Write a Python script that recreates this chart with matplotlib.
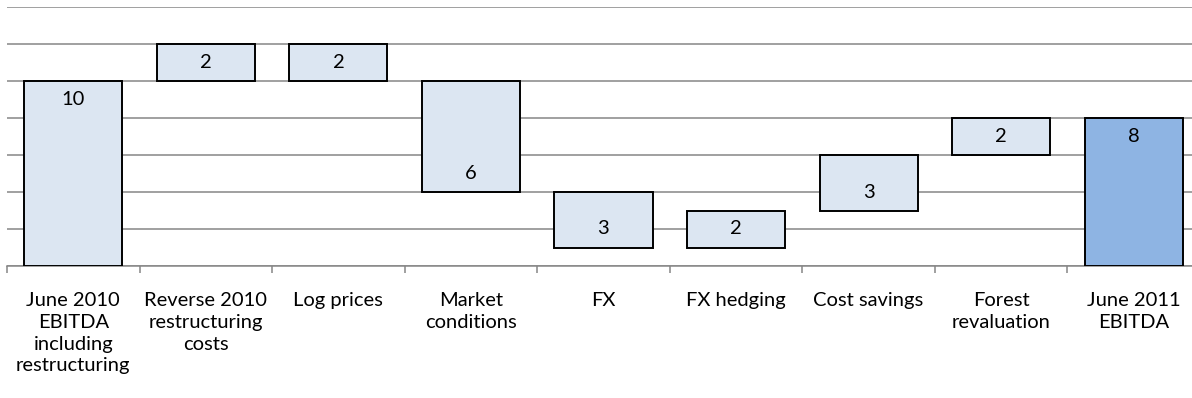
import matplotlib
matplotlib.use("Agg")
import matplotlib.pyplot as plt
import numpy as np

categories = ["June 2010\nEBITDA\nincluding\nrestructuring", "Reverse 2010\nrestructuring\ncosts",
              "Log prices", "Market\nconditions", "FX", "FX hedging", "Cost savings",
              "Forest\nrevaluation", "June 2011\nEBITDA"]
bases = [0, 10, 10, 4, 1, 1, 3, 6, 0]
values = [10, 2, 2, 6, 3, 2, 3, 2, 8]
is_total = [True, False, False, False, False, False, False, False, True]

plt.rcParams['font.family'] = ['Lato', 'DejaVu Sans']

fig = plt.figure(figsize=(11.92, 3.98), dpi=100)
ax = fig.add_axes([7 / 1192, 132 / 398, 1193 / 1192, 259 / 398])

x = np.arange(len(categories))
colors = ['#8eb4e3' if (t and i == len(categories) - 1) else '#dce6f2' for i, t in enumerate(is_total)]
ax.bar(x, values, bottom=bases, width=0.74, color=colors, edgecolor='black', linewidth=1.4, zorder=3)

for i in range(len(categories)):
    if is_total[i]:
        ly = bases[i] + values[i] - 1
    else:
        ly = bases[i] + 1
    ax.text(x[i], ly, str(values[i]), ha='center', va='center', fontsize=14.5, zorder=4)

ax.set_xlim(-0.5, len(categories) - 0.5)
ax.set_ylim(0, 14)
ax.set_yticks(np.arange(0, 15, 2))
ax.yaxis.grid(True, color='#868686', linewidth=1.1, zorder=0)
ax.tick_params(axis='y', length=0, labelleft=False)

ax.set_xticks(x)
ax.set_xticklabels(categories, fontsize=14.5, linespacing=1.33, va='top')
ax.set_xticks(np.arange(-0.5, len(categories), 1), minor=True)
ax.tick_params(axis='x', which='major', length=0, pad=19)
ax.tick_params(axis='x', which='minor', length=5, width=1.1, color='#868686', direction='out')

for s in ['top', 'right', 'left']:
    ax.spines[s].set_visible(False)
ax.spines['bottom'].set_color('#868686')
ax.spines['bottom'].set_linewidth(1.1)

fig.savefig("out.png", dpi=100)
